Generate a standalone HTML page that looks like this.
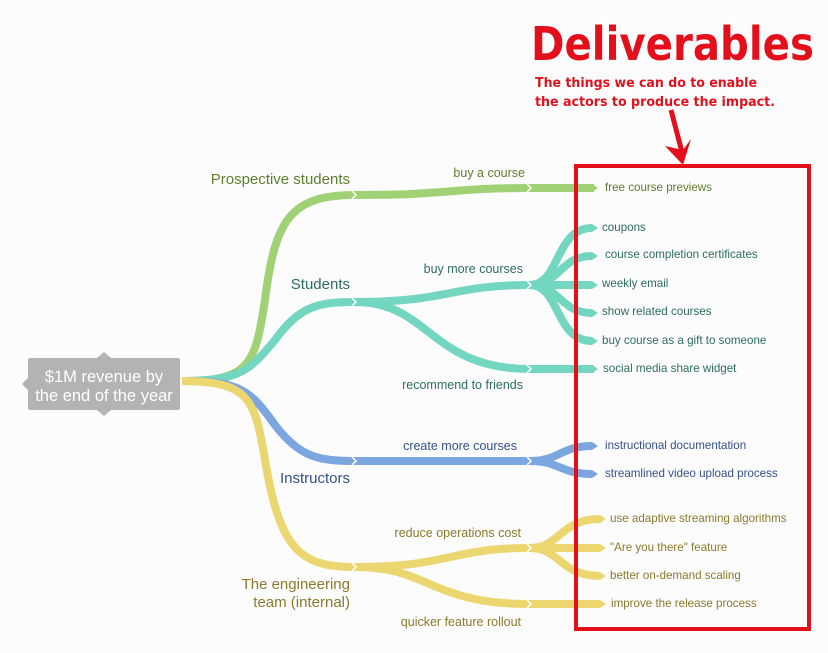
<!DOCTYPE html>
<html><head><meta charset="utf-8"><style>
html,body{margin:0;padding:0;background:#fcfcfc;}
svg{display:block;font-family:"Liberation Sans",Arial,sans-serif;}
</style></head><body>
<svg width="828" height="653" viewBox="0 0 828 653" xmlns="http://www.w3.org/2000/svg">
<rect width="828" height="653" fill="#fcfcfc"/>
<g fill="none" stroke-width="8" stroke-linecap="butt">
  <g stroke="#a1d175">
    <path d="M182,381 C250,381 255,365 265,300 C275,220 290,195 355,195"/>
    <path d="M355,195 C450,195 450,188 530,188"/>
    <path d="M530,188 L594,188"/>
  </g>
  <g stroke="#72d6c0">
    <path d="M182,381 C240,381 250,370 275,340 C300,305 320,302 355,302"/>
    <path d="M355,302 C450,302 450,285 530,285"/>
    <path d="M355,302 C430,302 430,369 530,369"/>
    <path d="M530,369 L594,369"/>
    <path d="M530,285 C560,285 555,228 592,228"/>
    <path d="M530,285 C560,285 560,256 592,256"/>
    <path d="M530,285 L592,285"/>
    <path d="M530,285 C560,285 560,313 592,313"/>
    <path d="M530,285 C560,285 555,341 592,341"/>
  </g>
  <g stroke="#7ba6e0">
    <path d="M182,381 C240,381 250,390 275,425 C300,458 320,461 355,461"/>
    <path d="M355,461 L530,461"/>
    <path d="M530,461 C560,461 560,446 592,446"/>
    <path d="M530,461 C560,461 560,474 592,474"/>
  </g>
  <g stroke="#ebd670">
    <path d="M182,381 C250,381 255,400 265,460 C280,550 300,567 355,567"/>
    <path d="M355,567 C450,567 450,548 530,548"/>
    <path d="M355,567 C430,567 430,604 530,604"/>
    <path d="M530,604 L600,604"/>
    <path d="M530,548 C560,548 560,519 600,519"/>
    <path d="M530,548 L600,548"/>
    <path d="M530,548 C560,548 560,576 600,576"/>
  </g>
</g>
<!-- chevron joints -->
<g fill="none" stroke="#fff" stroke-width="1.5">
  <polyline points="352,191 356,195 352,199"/>
  <polyline points="527,184 531,188 527,192"/>
  <polyline points="352,298 356,302 352,306"/>
  <polyline points="527,281 531,285 527,289"/>
  <polyline points="527,365 531,369 527,373"/>
  <polyline points="352,457 356,461 352,465"/>
  <polyline points="527,457 531,461 527,465"/>
  <polyline points="352,563 356,567 352,571"/>
  <polyline points="527,544 531,548 527,552"/>
  <polyline points="527,600 531,604 527,608"/>
</g>
<g>
  <polygon points="592,184 598,188 592,192" fill="#a1d175"/>
  <g fill="#72d6c0">
    <polygon points="592,224 598,228 592,232"/><polygon points="592,252 598,256 592,260"/>
    <polygon points="592,281 598,285 592,289"/><polygon points="592,309 598,313 592,317"/>
    <polygon points="592,337 598,341 592,345"/><polygon points="592,365 598,369 592,373"/>
  </g>
  <g fill="#7ba6e0"><polygon points="592,442 598,446 592,450"/><polygon points="592,470 598,474 592,478"/></g>
  <g fill="#ebd670">
    <polygon points="600,515 606,519 600,523"/><polygon points="600,544 606,548 600,552"/>
    <polygon points="600,572 606,576 600,580"/><polygon points="600,600 606,604 600,608"/>
  </g>
</g>
<rect x="28" y="358" width="152" height="52" rx="2" fill="#b3b3b3"/>
<polygon points="97,358 104,352 111,358" fill="#b3b3b3"/>
<polygon points="97,410 104,416 111,410" fill="#b3b3b3"/>
<polygon points="28,378 22,384 28,390" fill="#b3b3b3"/>
<text x="104" y="382" font-size="16.5" fill="#fff" text-anchor="middle">$1M revenue by</text>
<text x="104" y="401" font-size="16.5" fill="#fff" text-anchor="middle">the end of the year</text>
<g font-size="15" text-anchor="end">
  <text x="350" y="184" fill="#5d7f30">Prospective students</text>
  <text x="350" y="289" fill="#2d6d62">Students</text>
  <text x="350" y="483" fill="#34508a">Instructors</text>
  <text x="350" y="589" fill="#8a7a2a">The engineering</text>
  <text x="350" y="607" fill="#8a7a2a">team (internal)</text>
</g>
<g font-size="12.5" text-anchor="end">
  <text x="525" y="177" fill="#5d7f30">buy a course</text>
  <text x="523" y="273" fill="#2d6d62">buy more courses</text>
  <text x="523" y="389" fill="#2d6d62">recommend to friends</text>
  <text x="517" y="450" fill="#34508a">create more courses</text>
  <text x="521" y="537" fill="#8a7a2a">reduce operations cost</text>
  <text x="521" y="626" fill="#8a7a2a">quicker feature rollout</text>
</g>
<g font-size="11.6">
  <text x="605" y="191" fill="#5d7f30">free course previews</text>
  <text x="602" y="231" fill="#2d6d62">coupons</text>
  <text x="605" y="258" fill="#2d6d62">course completion certificates</text>
  <text x="602" y="287" fill="#2d6d62">weekly email</text>
  <text x="602" y="315" fill="#2d6d62">show related courses</text>
  <text x="602" y="344" fill="#2d6d62">buy course as a gift to someone</text>
  <text x="603" y="372" fill="#2d6d62">social media share widget</text>
  <text x="605" y="449" fill="#34508a">instructional documentation</text>
  <text x="605" y="477" fill="#34508a">streamlined video upload process</text>
  <text x="610" y="522" fill="#8a7a2a">use adaptive streaming algorithms</text>
  <text x="610" y="551" fill="#8a7a2a">"Are you there" feature</text>
  <text x="610" y="579" fill="#8a7a2a">better on-demand scaling</text>
  <text x="611" y="607" fill="#8a7a2a">improve the release process</text>
</g>
<rect x="576" y="166" width="233" height="463" fill="none" stroke="#e3101b" stroke-width="4"/>
<g font-weight="bold" fill="#e3101b" stroke="#fff" stroke-width="3" paint-order="stroke" stroke-linejoin="round">
  <text x="531" y="60" font-size="46" font-family="'DejaVu Sans','Liberation Sans',sans-serif" textLength="283" lengthAdjust="spacingAndGlyphs">Deliverables</text>
  <text x="535" y="87" font-size="13.5" font-family="'DejaVu Sans','Liberation Sans',sans-serif" textLength="222" lengthAdjust="spacingAndGlyphs">The things we can do to enable</text>
  <text x="535" y="106" font-size="13.5" font-family="'DejaVu Sans','Liberation Sans',sans-serif" textLength="240" lengthAdjust="spacingAndGlyphs">the actors to produce the impact.</text>
</g>
<path d="M671,110 L683,156" stroke="#e3101b" stroke-width="5" fill="none"/>
<polygon points="665,146 683,165 691,139 683,150" fill="#e3101b"/>
</svg>
</body></html>
